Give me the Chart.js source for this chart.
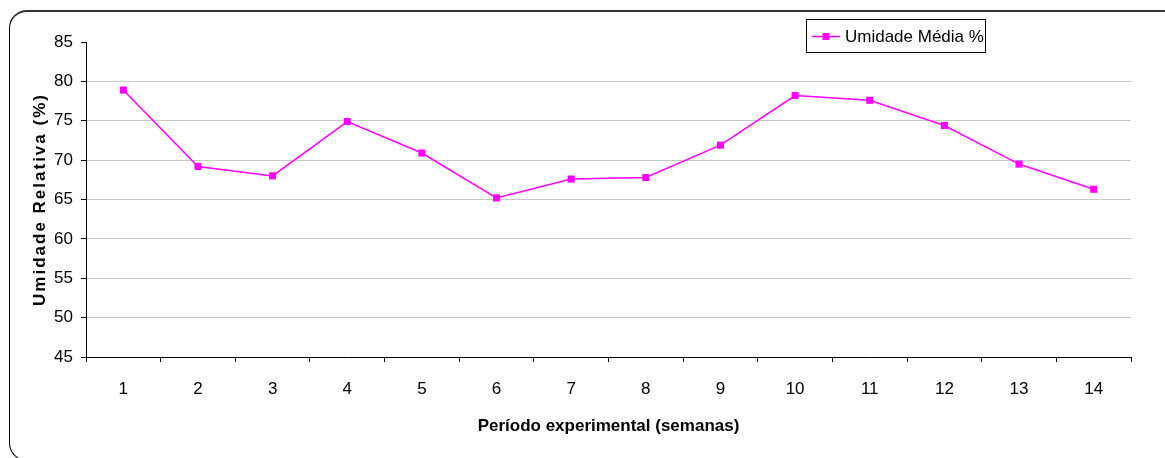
<!DOCTYPE html>
<html><head><meta charset="utf-8">
<script src="https://cdn.jsdelivr.net/npm/chart.js@4"></script>
<style>
html,body{margin:0;padding:0;background:#fff;overflow:hidden;}
#wrap{position:relative;width:1165px;height:458px;overflow:hidden;}
#frame{position:absolute;left:9px;top:10px;width:1172px;height:451px;border:1px solid #000;border-top:2px solid #333;border-radius:18px;box-sizing:border-box;pointer-events:none}
</style></head><body>
<div id="wrap"><canvas id="c" width="1165" height="458"></canvas><div id="frame"></div></div>
<script>
const weeks = ['1','2','3','4','5','6','7','8','9','10','11','12','13','14'];
const humidity = [78.9, 69.2, 68.0, 74.9, 70.9, 65.2, 67.6, 67.8, 71.9, 78.2, 77.6, 74.4, 69.5, 66.3];
const yMin = 45, yMax = 85, yStep = 5;
const seriesLabel = 'Umidade Média %';
const xTitle = 'Período experimental (semanas)';
const yTitle = 'Umidade Relativa (%)';

const SANS = "'Liberation Sans', Arial, sans-serif";
const MAG = '#FF00FF';

const boxLegend = {
  id: 'boxLegend',
  afterDraw(chart) {
    const ctx = chart.ctx;
    const ds = chart.data.datasets[0];
    ctx.save();
    ctx.strokeStyle = '#000'; ctx.lineWidth = 1;
    ctx.strokeRect(806.5, 19.5, 179, 33);
    ctx.strokeStyle = ds.borderColor; ctx.lineWidth = 1.5;
    ctx.beginPath(); ctx.moveTo(812, 36.5); ctx.lineTo(840, 36.5); ctx.stroke();
    ctx.fillStyle = ds.pointBackgroundColor;
    ctx.fillRect(822.5, 33, 7, 7);
    ctx.fillStyle = '#000';
    ctx.font = "17px " + SANS;
    ctx.textBaseline = 'middle'; ctx.textAlign = 'left';
    ctx.fillText(ds.label, 845, 37);
    ctx.restore();
  }
};
const spacedTitle = {
  id: 'spacedTitle',
  afterLayout(chart) {
    const s = chart.scales.y;
    if (s._patched) return;
    const orig = s.drawTitle.bind(s);
    s.drawTitle = function() {
      chart.ctx.save(); chart.ctx.letterSpacing = '2px'; orig(); chart.ctx.restore();
    };
    s._patched = true;
  }
};

new Chart(document.getElementById('c'), {
  type: 'line',
  data: {
    labels: weeks,
    datasets: [{
      label: seriesLabel,
      data: humidity,
      borderColor: MAG,
      backgroundColor: MAG,
      pointBackgroundColor: MAG,
      pointBorderColor: MAG,
      borderWidth: 1.5,
      pointStyle: 'rect',
      pointRadius: 5,
      pointBorderWidth: 0,
      tension: 0,
      fill: false
    }]
  },
  options: {
    responsive: false,
    animation: false,
    devicePixelRatio: 1,
    layout: { padding: { left: 0, right: 34, top: 42, bottom: 0 } },
    plugins: { legend: { display: false }, tooltip: { enabled: false } },
    scales: {
      x: {
        type: 'category',
        offset: true,
        afterFit: s => { s.height = 101; },
        grid: { offset: true, drawOnChartArea: false, drawTicks: true, tickLength: 5, tickColor: '#000' },
        border: { color: '#000', width: 1 },
        ticks: { color: '#000', font: { family: SANS, size: 17 }, padding: 17, maxRotation: 0 },
        title: { display: true, text: xTitle, color: '#000', font: { family: SANS, size: 17, weight: 'bold' }, padding: { top: 0, bottom: 21 } }
      },
      y: {
        min: yMin, max: yMax,
        afterFit: s => { s.width = 86; },
        ticks: { stepSize: yStep, color: '#000', font: { family: SANS, size: 17 }, padding: 8 },
        grid: {
          color: c => (c.tick && c.tick.value === yMax) ? 'rgba(0,0,0,0)' : '#c8c8c8',
          lineWidth: 1, drawTicks: true, tickLength: 5, tickColor: '#000'
        },
        border: { color: '#000', width: 1 },
        title: { display: true, text: yTitle, color: '#000', font: { family: SANS, size: 17, weight: 'bold' }, padding: { top: 30, bottom: 0 } }
      }
    }
  },
  plugins: [boxLegend, spacedTitle]
});
</script>
</body></html>
